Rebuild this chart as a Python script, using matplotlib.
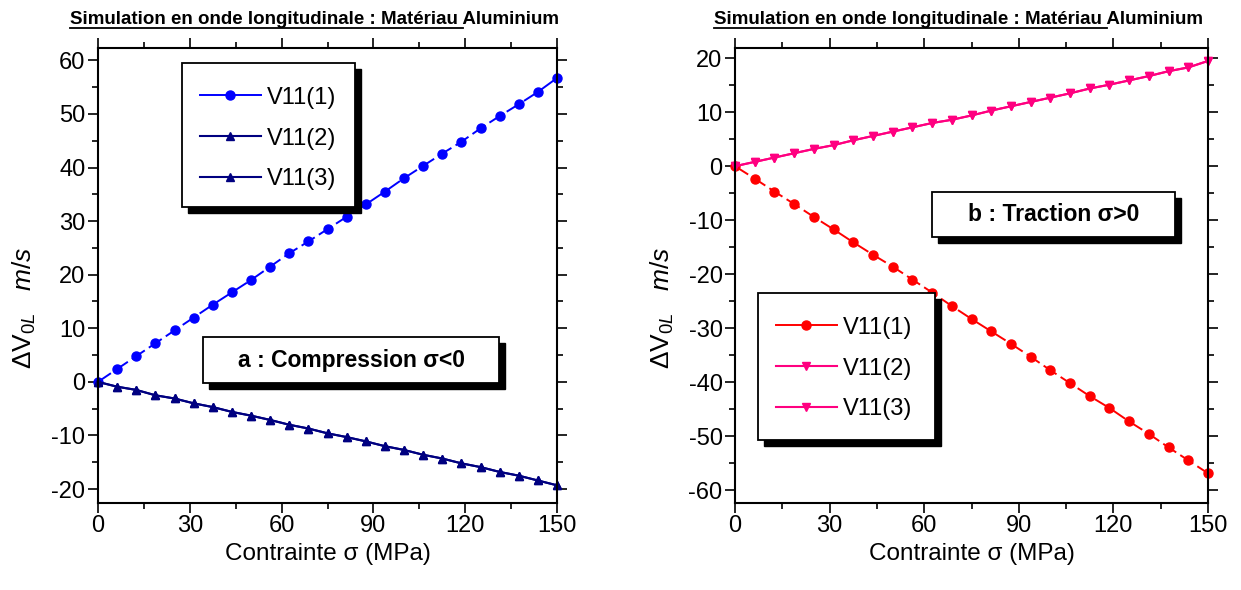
import matplotlib
matplotlib.use("Agg")
import matplotlib.pyplot as plt
from matplotlib.patches import Rectangle
from matplotlib.lines import Line2D
from matplotlib.ticker import MultipleLocator

# ---- fonts -------------------------------------------------------------
FONT = "Liberation Sans"
plt.rcParams["font.family"] = [FONT, "DejaVu Sans"]
plt.rcParams["mathtext.fontset"] = "custom"
plt.rcParams["mathtext.rm"] = FONT
plt.rcParams["mathtext.it"] = FONT + ":italic"
plt.rcParams["axes.unicode_minus"] = False

# ---- data --------------------------------------------------------------
contrainte = [0, 6.25, 12.5, 18.75, 25, 31.25, 37.5, 43.75, 50, 56.25, 62.5, 68.75,
              75, 81.25, 87.5, 93.75, 100, 106.25, 112.5, 118.75, 125, 131.25,
              137.5, 143.75, 150]

comp_v11_1 = [0, 2.4, 4.8, 7.2, 9.6, 12.0, 14.4, 16.7, 19.0, 21.5, 24.0, 26.2,
              28.5, 30.8, 33.1, 35.5, 38.0, 40.3, 42.6, 44.8, 47.3, 49.6, 51.8,
              54.1, 56.7]
comp_v11_2 = [0, -0.9, -1.5, -2.5, -3.1, -4.0, -4.7, -5.6, -6.3, -7.1, -8.0, -8.7,
              -9.6, -10.3, -11.1, -12.0, -12.7, -13.6, -14.3, -15.2, -15.9, -16.8,
              -17.5, -18.4, -19.3]
comp_v11_3 = [0, -0.9, -1.5, -2.5, -3.1, -4.0, -4.7, -5.6, -6.3, -7.1, -8.0, -8.7,
              -9.6, -10.3, -11.1, -12.0, -12.7, -13.6, -14.3, -15.2, -15.9, -16.8,
              -17.5, -18.4, -19.3]

trac_v11_1 = [0, -2.3, -4.7, -7.0, -9.4, -11.7, -14.1, -16.4, -18.6, -21.0, -23.4,
              -25.9, -28.3, -30.6, -32.9, -35.3, -37.8, -40.2, -42.6, -44.8, -47.3,
              -49.6, -52.1, -54.5, -56.9]
trac_v11_2 = [0, 0.8, 1.6, 2.4, 3.2, 3.9, 4.8, 5.6, 6.4, 7.2, 8.0, 8.6, 9.4, 10.3,
              11.1, 11.9, 12.7, 13.5, 14.4, 15.1, 15.9, 16.7, 17.6, 18.3, 19.5]
trac_v11_3 = [0, 0.8, 1.6, 2.4, 3.2, 3.9, 4.8, 5.6, 6.4, 7.2, 8.0, 8.6, 9.4, 10.3,
              11.1, 11.9, 12.7, 13.5, 14.4, 15.1, 15.9, 16.7, 17.6, 18.3, 19.5]

labels = ["V11(1)", "V11(2)", "V11(3)"]
x_ticks = [0, 30, 60, 90, 120, 150]
title = "Simulation en onde longitudinale : Matériau Aluminium"
title_underlined = "Simulation en onde longitudinale : Matériau"
xlabel = "Contrainte σ (MPa)"
ylabel = r"ΔV$_{\mathit{0L}}$   $\mathit{m/s}$"
box_a = "a : Compression σ<0"
box_b = "b : Traction σ>0"

# ---- figure ------------------------------------------------------------
W, H = 1241, 590
fig = plt.figure(figsize=(W / 100, H / 100), dpi=100)

AX_PX = {"L": (98, 557, 48, 503), "R": (735, 1208, 48, 503)}


def px_axes(x0, x1, ytop, ybot):
    return [x0 / W, 1 - ybot / H, (x1 - x0) / W, (ybot - ytop) / H]


axL = fig.add_axes(px_axes(*AX_PX["L"]))
axR = fig.add_axes(px_axes(*AX_PX["R"]))

DASH = (0, (8, 2.5))

axL.plot(contrainte, comp_v11_1, color="#0000FF", ls=DASH, lw=1.4, marker="o",
         ms=6.5, label=labels[0])
axL.plot(contrainte, comp_v11_2, color="#000080", ls="-", lw=1.5, marker="^",
         ms=6, label=labels[1])
axL.plot(contrainte, comp_v11_3, color="#000080", ls="-", lw=1.5, marker="^",
         ms=6, label=labels[2])

axR.plot(contrainte, trac_v11_1, color="#FF0000", ls=DASH, lw=1.4, marker="o",
         ms=6.5, label=labels[0])
axR.plot(contrainte, trac_v11_2, color="#FF0080", ls="-", lw=1.5, marker="v",
         ms=6, label=labels[1])
axR.plot(contrainte, trac_v11_3, color="#FF0080", ls="-", lw=1.5, marker="v",
         ms=6, label=labels[2])

axL.set_ylim(-22.6, 62.3)
axR.set_ylim(-62.4, 21.9)

for ax in (axL, axR):
    ax.set_xlim(0, 150)
    ax.set_xticks(x_ticks)
    ax.xaxis.set_minor_locator(MultipleLocator(15))
    ax.yaxis.set_major_locator(MultipleLocator(10))
    ax.yaxis.set_minor_locator(MultipleLocator(5))
    ax.tick_params(which="both", direction="out", top=True, right=True,
                   labeltop=False, labelright=False, width=1.2, color="black")
    ax.tick_params(which="major", length=7, labelsize=17, pad=2)
    ax.tick_params(which="minor", length=4)
    for s in ax.spines.values():
        s.set_linewidth(1.5)
    ax.set_xlabel(xlabel, fontsize=17.5, labelpad=4)
    ax.set_ylabel(ylabel, fontsize=19, labelpad=4)
    ax.yaxis.set_label_coords(-0.13, 0.43)
    for c in ax.get_lines():
        c.set_clip_on(False)
axR.yaxis.set_label_coords(-0.125, 0.43)


def shadow_box(parent, x0, x1, ytop, ybot, text=None, dx=6, dy=6, z=6):
    """White box with a solid black drop shadow; coordinates are figure pixels."""
    tr = fig.transFigure
    r0 = Rectangle(((x0 + dx) / W, 1 - (ybot + dy) / H), (x1 - x0) / W,
                   (ybot - ytop) / H, transform=tr, facecolor="black",
                   edgecolor="black", zorder=z, clip_on=False)
    r1 = Rectangle((x0 / W, 1 - ybot / H), (x1 - x0) / W, (ybot - ytop) / H,
                   transform=tr, facecolor="white", edgecolor="black", lw=1.3,
                   zorder=z + 0.1, clip_on=False)
    parent.add_artist(r0)
    parent.add_artist(r1)
    if text:
        parent.text((x0 + x1) / 2 / W, 1 - (ytop + ybot) / 2 / H, text,
                    transform=tr, ha="center", va="center", fontsize=16.5,
                    fontweight="bold", zorder=z + 0.2)


shadow_box(axL, 203, 499, 337, 383, box_a)
shadow_box(axR, 932, 1175, 192, 237, box_b)


def legend_with_shadow(ax, key, x0, x1, ytop, ybot):
    shadow_box(ax, x0, x1, ytop, ybot, z=6)
    ax0, ax1, ayt, ayb = AX_PX[key]
    # entries sit a little closer to the left edge than the vertical padding
    leg = ax.legend(loc="upper left",
                    bbox_to_anchor=((x0 - 6 - ax0) / (ax1 - ax0), (ayb - ytop) / (ayb - ayt)),
                    frameon=False, fontsize=17, handlelength=2.6, handletextpad=0.25,
                    labelspacing=0.8, borderpad=1.0, borderaxespad=0)
    leg.set_zorder(9)
    for h in leg.get_lines():
        h.set_linestyle("-")


legend_with_shadow(axL, "L", 182, 355, 63, 207)
legend_with_shadow(axR, "R", 758, 935, 293, 440)

# titles, partially underlined
fig.canvas.draw()
renderer = fig.canvas.get_renderer()
for cx in (314, 958):
    t = fig.text(cx / W, 1 - 20 / H, title, ha="center", va="center",
                 fontsize=13.5, fontweight="bold")
    full = t.get_window_extent(renderer)
    probe = fig.text(0, 0, title_underlined, fontsize=13.5, fontweight="bold")
    pw = probe.get_window_extent(renderer).width
    probe.remove()
    y_line = full.y0 + 1
    fig.add_artist(Line2D([full.x0 / W, (full.x0 + pw + 6) / W],
                          [y_line / H, y_line / H], transform=fig.transFigure,
                          color="black", lw=1.3))

fig.savefig("out.png", dpi=100)
